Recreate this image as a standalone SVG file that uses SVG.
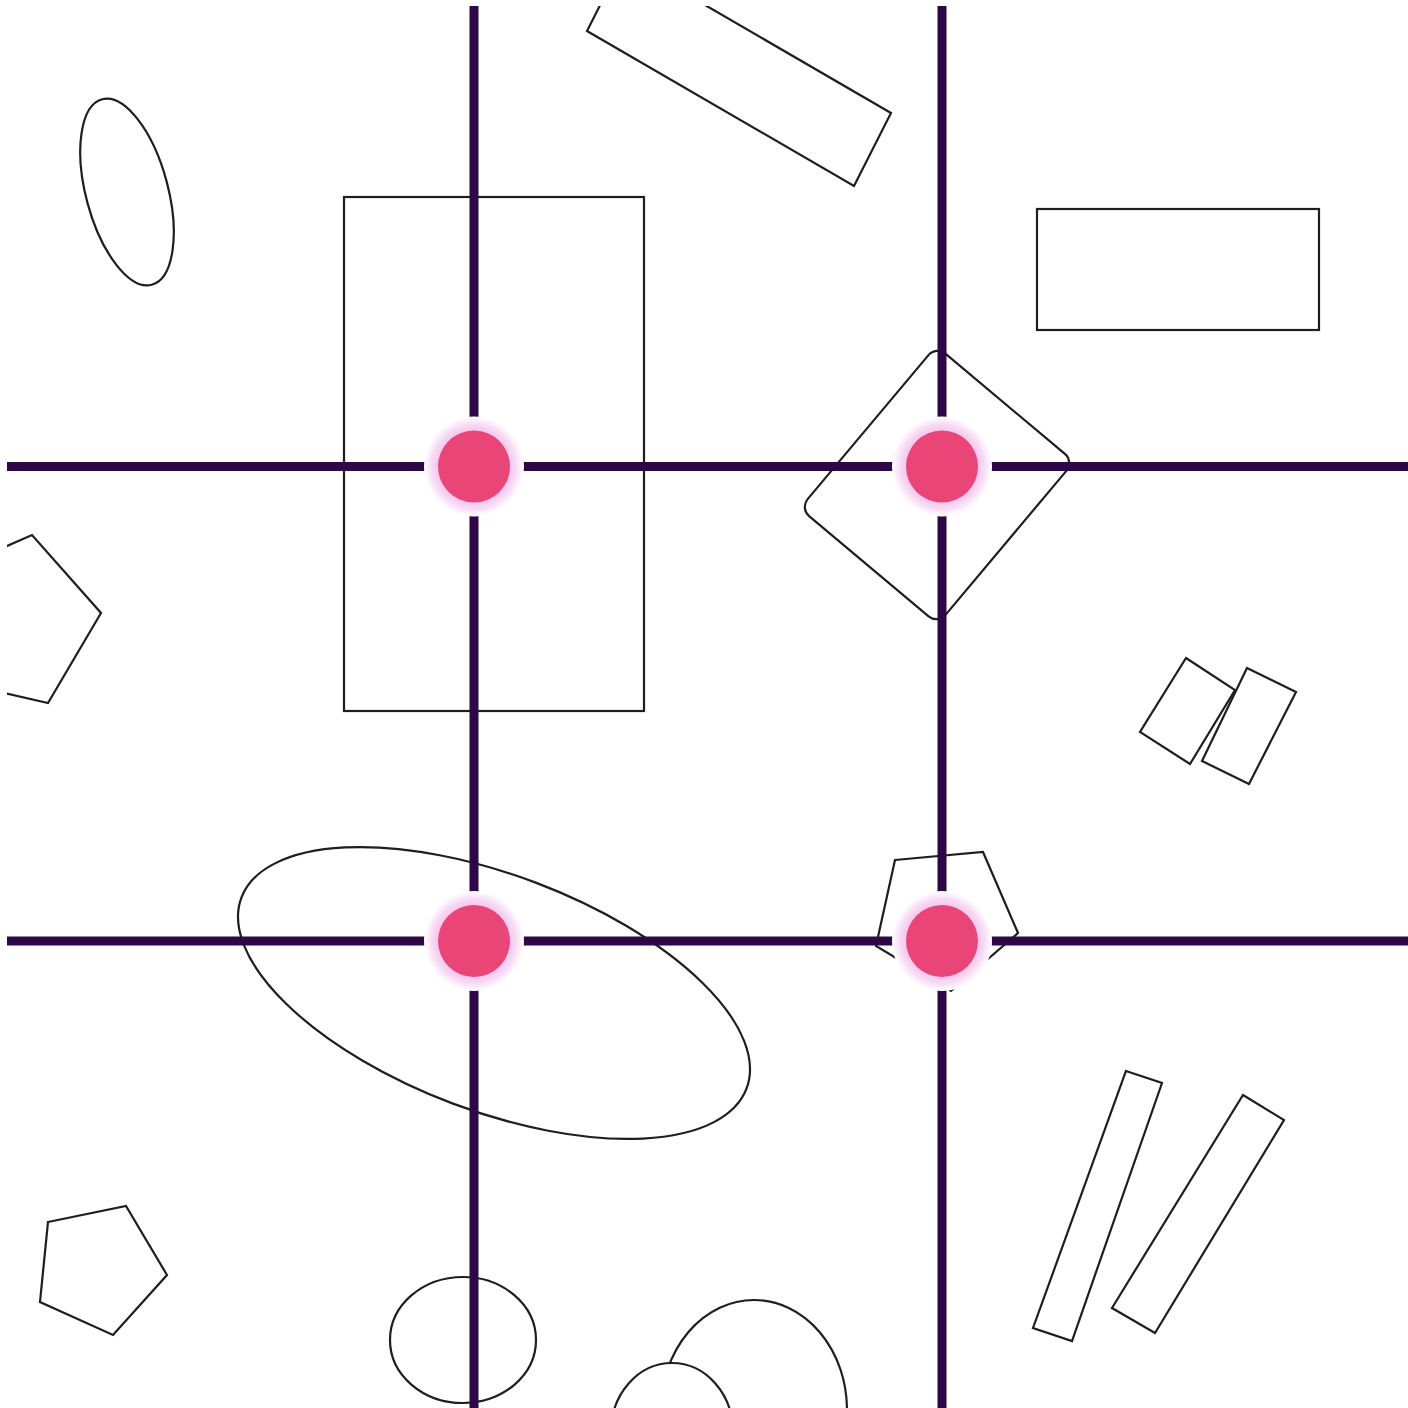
<svg xmlns="http://www.w3.org/2000/svg" width="1408" height="1408" viewBox="0 0 1408 1408">
<style>
.sh{fill:#ffffff;stroke:#1e1e1e;stroke-width:2.2}
.ln{stroke:#2e0846;stroke-width:9;fill:none}
.core{fill:#e94677}
</style>
<defs>
<clipPath id="frame"><rect x="7" y="6" width="1401" height="1402"/></clipPath>
<radialGradient id="halo" cx="0.5" cy="0.5" r="0.5">
<stop offset="0.7" stop-color="#f3c4ee"/>
<stop offset="0.85" stop-color="#f8dcf5"/>
<stop offset="1" stop-color="#ffffff"/>
</radialGradient>
</defs>
<rect width="1408" height="1408" fill="#ffffff"/>
<g clip-path="url(#frame)">
<g id="shapes">
<ellipse class="sh" cx="127" cy="192" rx="41" ry="96" transform="rotate(-15 127 192)"/>
<polygon class="sh" points="624,-42 891,113 854,186 587,31"/>
<rect class="sh" x="344" y="197" width="300" height="514"/>
<rect class="sh" x="1037" y="209" width="282" height="121"/>
<rect class="sh" x="847" y="379" width="180" height="212" rx="12" transform="rotate(40 937 485)"/>
<polygon class="sh" points="101,613 48,703 -53,680 -63,577 32,535"/>
<polygon class="sh" points="1186,658 1235,690 1190,764 1140,732"/>
<polygon class="sh" points="1247,668 1296,692 1249,784 1202,761"/>
<polygon class="sh" points="895,860 983,852 1018,933 951,991 876,946"/>
<ellipse class="sh" cx="494" cy="993" rx="270" ry="118" transform="rotate(20.7 494 993)"/>
<polygon class="sh" points="48,1222 126,1206 167,1275 113,1335 40,1302"/>
<ellipse class="sh" cx="463" cy="1340" rx="73" ry="63"/>
<ellipse class="sh" cx="754" cy="1410" rx="93" ry="110"/>
<ellipse class="sh" cx="672" cy="1432" rx="61" ry="69"/>
<polygon class="sh" points="1126,1071 1162,1083 1072,1341 1033,1328"/>
<polygon class="sh" points="1243,1095 1284,1120 1155,1333 1112,1308"/>
</g>
<g id="connectors">
<line class="ln" x1="7" y1="466.5" x2="1408" y2="466.5"/>
<line class="ln" x1="7" y1="941" x2="1408" y2="941"/>
<line class="ln" x1="474" y1="6" x2="474" y2="1408"/>
<line class="ln" x1="942" y1="6" x2="942" y2="1408"/>
</g>
<g id="node-1"><circle cx="474" cy="466.5" r="50" fill="url(#halo)"/><circle class="core" cx="474" cy="466.5" r="36"/></g>
<g id="node-2"><circle cx="942" cy="466.5" r="50" fill="url(#halo)"/><circle class="core" cx="942" cy="466.5" r="36"/></g>
<g id="node-3"><circle cx="474" cy="941" r="50" fill="url(#halo)"/><circle class="core" cx="474" cy="941" r="36"/></g>
<g id="node-4"><circle cx="942" cy="941" r="50" fill="url(#halo)"/><circle class="core" cx="942" cy="941" r="36"/></g>
</g>
</svg>
